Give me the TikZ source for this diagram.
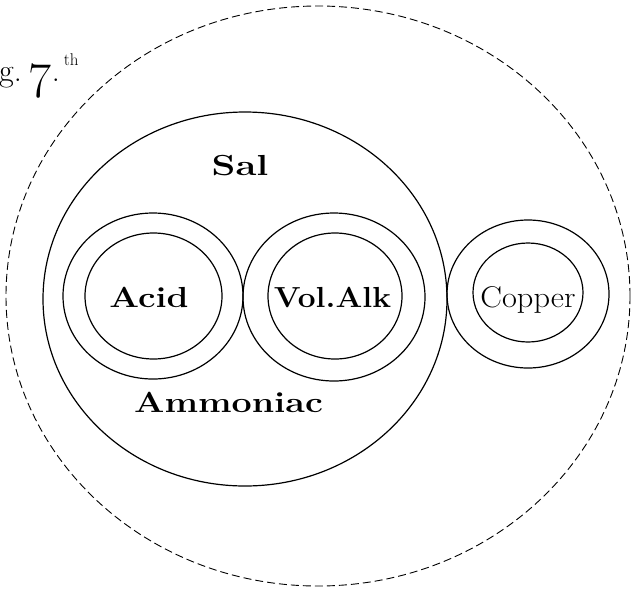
\documentclass[tikz,border=0pt]{standalone}
\usepackage{fontspec}
\usetikzlibrary{shapes.geometric}
\begin{document}
\begin{tikzpicture}[x=1pt,y=-1pt,
  ring/.style={draw, ellipse, inner sep=0pt, line width=1.2pt},
  fieldring/.style={draw, ellipse, inner sep=0pt, line width=0.9pt, dash pattern=on 8pt off 4pt},
  lbl/.style={inner sep=0pt, anchor=base},
  bigbold/.style={font=\fontsize{29}{29}\selectfont\bfseries}]
\useasboundingbox (0,0) rectangle (631,590);
% outer dashed field
\node[fieldring, minimum width=624pt, minimum height=580pt] (field) at (318,296) {};
% Sal Ammoniac
\node[ring, minimum width=404pt, minimum height=374pt] (sal) at (245,299) {};
% Acid
\node[ring, minimum width=180pt, minimum height=166pt] (acidout) at (153,296) {};
\node[ring, minimum width=137pt, minimum height=126pt] (acidin) at (153.5,296) {};
% Volatile alkali
\node[ring, minimum width=182pt, minimum height=168pt] (volout) at (334,297) {};
\node[ring, minimum width=134pt, minimum height=126pt] (volin) at (335,296) {};
% Copper
\node[ring, minimum width=162pt, minimum height=148pt] (copout) at (528,294) {};
\node[ring, minimum width=110pt, minimum height=99pt] (copin) at (528,292.5) {};
% labels
\node[lbl, bigbold] (saltxt) at (240,175) {\scalebox{1.32}[1]{Sal}};
\node[lbl, bigbold] (ammtxt) at (228.5,412) {\scalebox{1.235}[1]{Ammoniac}};
\node[lbl, bigbold] (acidtxt) at (149,307) {\scalebox{1.21}[1]{Acid}};
\node[lbl, bigbold] (voltxt) at (332.5,307) {\scalebox{1.09}[1]{Vol.Alk}};
\node[lbl, font=\fontsize{30}{30}\selectfont] (coptxt) at (528,307) {\scalebox{1.08}[1]{Copper}};
% figure number
\node[inner sep=0pt, anchor=base west] (fig) at (-1,81)
  {\fontsize{32}{34}\selectfont g.\hspace{7pt}\raisebox{-16pt}{\fontsize{50}{50}\selectfont 7}.\hspace{4pt}\raisebox{16pt}{\fontsize{17}{17}\selectfont th}};
\end{tikzpicture}
\end{document}
